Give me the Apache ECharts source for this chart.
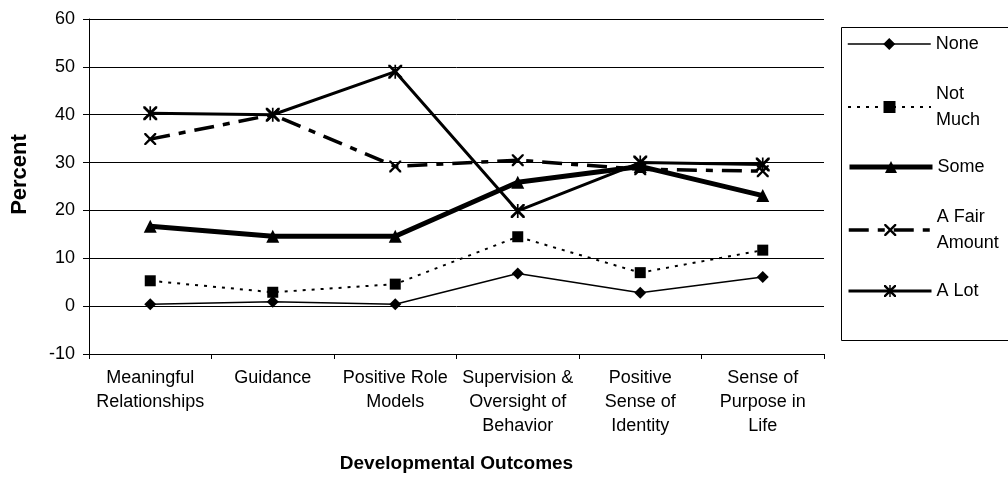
<!DOCTYPE html>
<html>
<head>
<meta charset="utf-8">
<script src="https://cdn.jsdelivr.net/npm/echarts@6/dist/echarts.min.js"></script>
<style>
  html, body { margin: 0; padding: 0; background: #fff; }
  #chart-container { width: 1008px; height: 478px; }
</style>
</head>
<body>
<div id="chart-container"></div>
<script>
// Data
var categories = [
    'Meaningful\nRelationships',
    'Guidance',
    'Positive Role\nModels',
    'Supervision &\nOversight of\nBehavior',
    'Positive\nSense of\nIdentity',
    'Sense of\nPurpose in\nLife'
];
var yTicks = { min: -10, max: 60, step: 10 };

var noneValues    = [0.4, 0.9, 0.4, 6.8, 2.8, 6.1];
var notMuchValues = [5.3, 2.9, 4.6, 14.5, 7.0, 11.7];
var someValues    = [16.7, 14.6, 14.6, 25.9, 29.2, 23.1];
var fairValues    = [34.9, 40.0, 29.2, 30.5, 28.6, 28.2];
var lotValues     = [40.3, 40.0, 49.0, 19.9, 30.0, 29.6];

// marker shapes (filled polygons)
var crossPath = 'path://M0,0 L1.4,0 L5,3.6 L8.6,0 L10,0 L10,1.4 L6.4,5 L10,8.6 L10,10 L8.6,10 L5,6.4 L1.4,10 L0,10 L0,8.6 L3.6,5 L0,1.4 Z';
var starPath = crossPath + ' M4.4,0 L5.6,0 L5.6,10 L4.4,10 Z';

var font = 'Liberation Sans, Arial, sans-serif';

// line looks, shared by series and legend
var styles = {
    'None':          { width: 1.5, type: 'solid' },
    'Not Much':      { width: 2,   type: [3, 6] },
    'Some':          { width: 5,   type: 'solid' },
    'A Fair Amount': { width: 3.5, type: [20, 9, 7, 9] },
    'A Lot':         { width: 3,   type: 'solid' }
};

var chart = echarts.init(document.getElementById('chart-container'));

function legendAt(name, top, twoLines) {
    return {
        data: [name],
        left: 847,
        top: top,
        padding: 0,
        itemWidth: 83,
        itemHeight: 15,
        itemGap: 0,
        selectedMode: false,
        lineStyle: { color: '#000', width: styles[name].width, type: styles[name].type },
        formatter: function (n) {
            if (n === 'Not Much') return 'Not\nMuch';
            if (n === 'A Fair Amount') return 'A Fair\nAmount';
            return n;
        },
        textStyle: {
            color: '#000',
            fontFamily: font,
            fontSize: 18,
            lineHeight: 26,
            padding: twoLines ? [26, 0, 0, 0] : 0
        }
    };
}

function lineSeries(name, values, symbol, size) {
    return {
        name: name,
        type: 'line',
        data: values,
        symbol: symbol,
        symbolSize: size,
        itemStyle: { color: '#000' },
        lineStyle: { color: '#000', width: styles[name].width, type: styles[name].type }
    };
}

var option = {
    backgroundColor: '#fff',
    animation: false,
    grid: { left: 89, right: 184, top: 19, bottom: 123 },
    legend: [
        legendAt('None', 31, false),
        legendAt('Not Much', 68, true),
        legendAt('Some', 154, false),
        legendAt('A Fair Amount', 191, true),
        legendAt('A Lot', 278, false)
    ],
    graphic: [{
        type: 'rect',
        shape: { x: 841.5, y: 27.5, width: 200, height: 313 },
        style: { fill: 'none', stroke: '#000', lineWidth: 1 },
        z: -1
    }],
    xAxis: {
        type: 'category',
        data: categories,
        boundaryGap: true,
        name: 'Developmental Outcomes',
        nameLocation: 'middle',
        nameGap: 100,
        nameTextStyle: { color: '#000', fontFamily: font, fontSize: 19, fontWeight: 'bold' },
        axisLine: { onZero: false, lineStyle: { color: '#000', width: 1 } },
        axisTick: { show: true, length: 5, lineStyle: { color: '#000' } },
        axisLabel: {
            interval: 0,
            color: '#000',
            fontFamily: font,
            fontSize: 18,
            lineHeight: 24,
            margin: 12
        },
        splitLine: { show: false }
    },
    yAxis: {
        type: 'value',
        min: yTicks.min,
        max: yTicks.max,
        interval: yTicks.step,
        name: 'Percent',
        nameLocation: 'middle',
        nameGap: 58,
        nameTextStyle: { color: '#000', fontFamily: font, fontSize: 22, fontWeight: 'bold', padding: [0, 0, 0, 24] },
        axisLine: { show: true, lineStyle: { color: '#000', width: 1 } },
        axisTick: { show: true, length: 6, lineStyle: { color: '#000' } },
        axisLabel: { color: '#000', fontFamily: font, fontSize: 18, margin: 14 },
        splitLine: { show: true, lineStyle: { color: '#000', width: 1 } }
    },
    series: [
        lineSeries('None', noneValues, 'diamond', 12),
        lineSeries('Not Much', notMuchValues, 'rect', 11),
        lineSeries('Some', someValues, 'triangle', 13),
        lineSeries('A Fair Amount', fairValues, crossPath, 12),
        lineSeries('A Lot', lotValues, starPath, 14)
    ]
};

chart.setOption(option);
</script>
</body>
</html>
